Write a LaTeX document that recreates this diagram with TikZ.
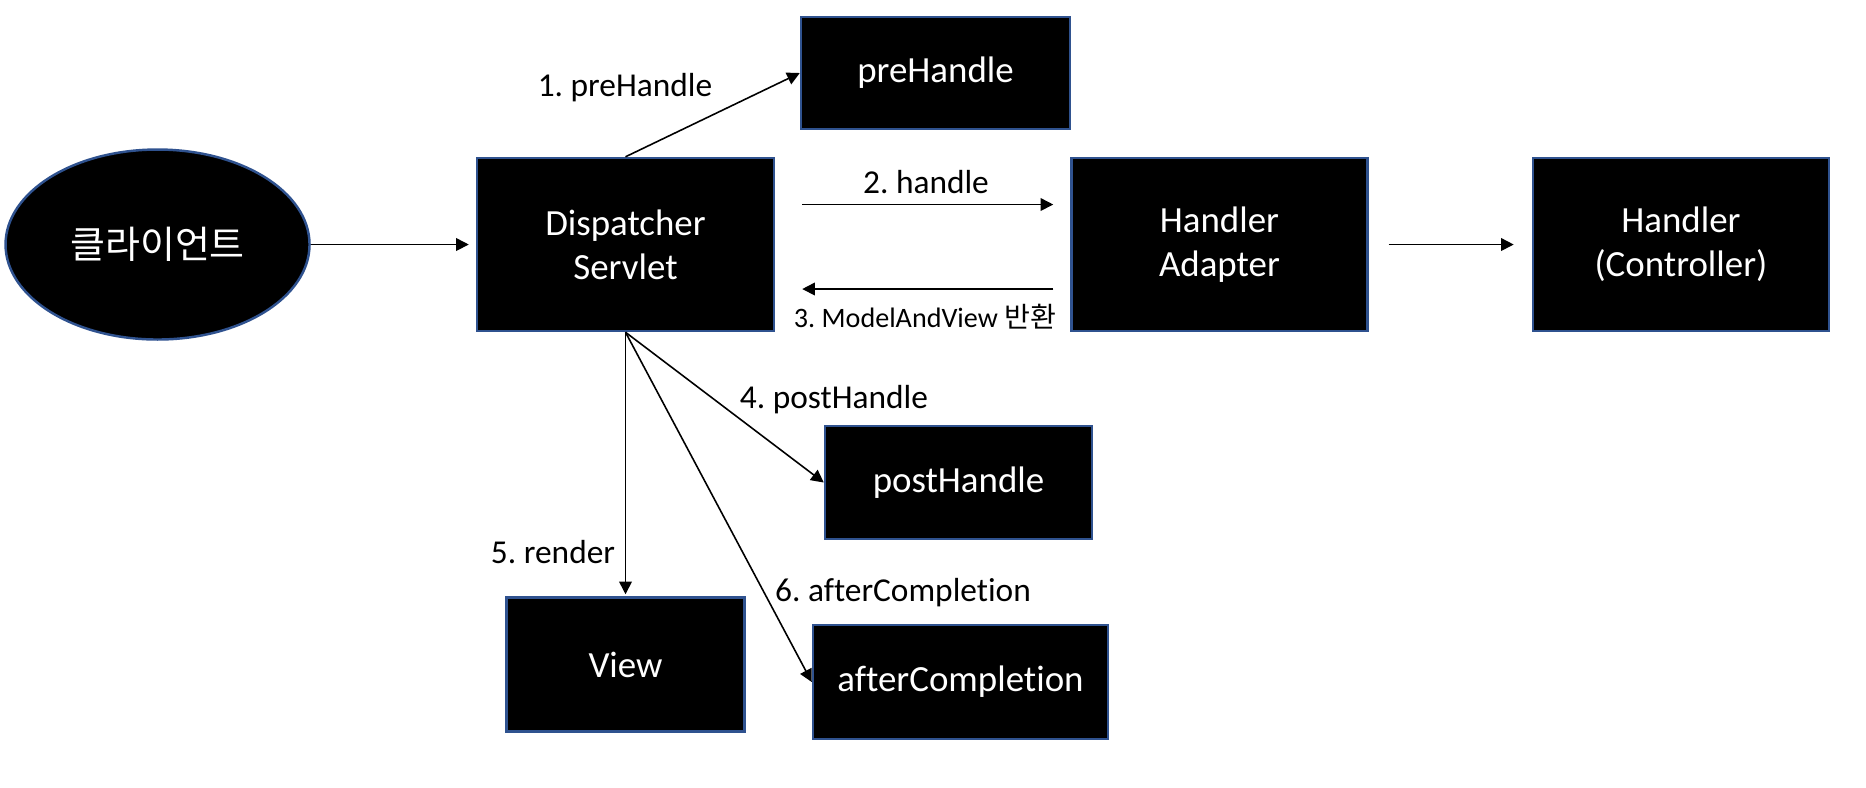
\documentclass[tikz,border=0pt]{standalone}
\usepackage{fontspec}
\setmainfont{Carlito}[Ligatures={NoCommon}]
\newfontfamily\korfont{Noto Sans CJK KR}
\usetikzlibrary{arrows.meta,positioning,shapes.geometric}
\definecolor{boxblue}{RGB}{47,82,143}
\frenchspacing

\begin{document}
\begin{tikzpicture}[
      box/.style={draw=boxblue, line width=0.7pt, fill=black, text=white, align=center, inner sep=2pt, font=\fontsize{10.5}{12.5}\selectfont},
      lbl/.style={inner sep=0pt, font=\fontsize{9.5}{11}\selectfont},
      arr/.style={-{Triangle[length=3.6pt,width=3.6pt]}, line width=0.45pt, draw=black}
    ]
      \useasboundingbox (0,0) rectangle (18.66,-7.87);
      \node[box, minimum width=2.97cm, minimum height=1.73cm] (ds) at (6.255,-2.445) {Dispatcher\\Servlet};
      \node[box, ellipse, minimum width=3.04cm, minimum height=1.90cm, left=1.65cm of ds, font=\korfont\fontsize{10.8}{12}\selectfont] (client) {클라이언트};
      \node[box, minimum width=2.96cm, minimum height=1.73cm, right=2.95cm of ds] (adapter) {Handler\\Adapter};
      \node[box, minimum width=2.96cm, minimum height=1.73cm, right=1.63cm of adapter] (handler) {Handler\\(Controller)};
      \node[box, minimum width=2.69cm, minimum height=1.12cm] (pre) at (9.355,-0.73) {preHandle};
      \node[box, minimum width=2.67cm, minimum height=1.13cm] (post) at (9.585,-4.825) {postHandle};
      \node[box, minimum width=2.38cm, minimum height=1.34cm, below=2.64cm of ds] (view) {View};
      \node[box, minimum width=2.95cm, minimum height=1.14cm] (after) at (9.605,-6.82) {afterCompletion};
      % step labels
      \node[lbl] (l1) at (6.25,-0.88) {1. preHandle};
      \node[lbl] (l2) at (9.26,-1.82) {2. handle};
      \node[lbl, font=\fontsize{8}{10}\selectfont] (l3) at (9.25,-3.17) {3. ModelAndView {\korfont 반환}};
      \node[lbl] (l4) at (8.34,-4.00) {4. postHandle};
      \node[lbl] (l5) at (5.53,-5.52) {5. render};
      \node[lbl] (l6) at (9.03,-5.93) {6. afterCompletion};
      % connectors
      \draw[arr, shorten >=0.07cm] (client) -- (ds);
      \draw[arr] (ds.north) -- (pre.west);
      \draw[arr, shorten <=0.27cm, shorten >=0.17cm] ([yshift=0.4cm]ds.east) -- ([yshift=0.4cm]adapter.west);
      \draw[arr, shorten <=0.17cm, shorten >=0.27cm] ([yshift=-0.445cm]adapter.west) -- ([yshift=-0.445cm]ds.east);
      \draw[arr, shorten <=0.2cm, shorten >=0.18cm] (adapter) -- (handler);
      \draw[arr] (ds.south) -- (post.west);
      \draw[arr, shorten >=0.02cm] (ds.south) -- (view.north);
      \draw[arr] (ds.south) -- (after.west);
    \end{tikzpicture}
\end{document}
